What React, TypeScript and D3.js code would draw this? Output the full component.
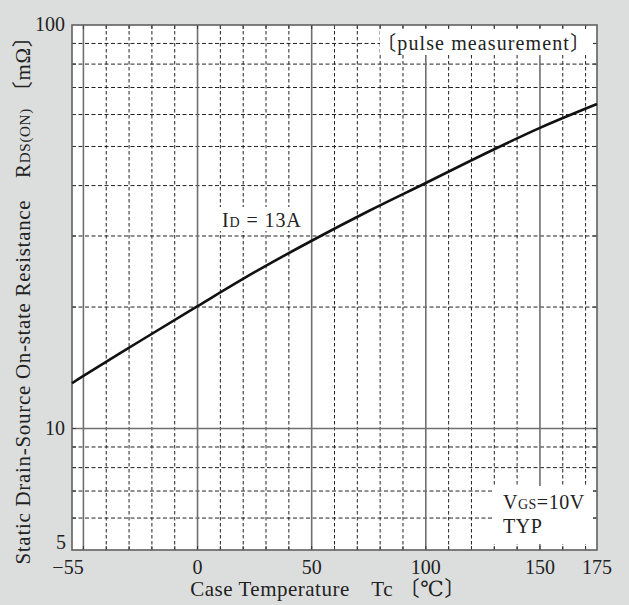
import React from "react";
import * as d3 from "d3";

const temps = [-55, -50, -25, 0, 25, 50, 75, 100, 125, 150, 175];
const rdsOn = [12.95, 13.5, 16.5, 20.1, 24.4, 29.2, 34.6, 40.6, 47.7, 55.6, 63.7];
const xTickLabels = [-55, 0, 50, 100, 150, 175];
const yTickLabels = [5, 10, 100];
const xSolidGrid = [-50, 0, 50, 100, 150];
const xDashedGrid = [-40, -30, -20, -10, 10, 20, 30, 40, 60, 70, 80, 90, 110, 120, 130, 140, 160, 170];
const ySolidGrid = [10];
const yDashedGrid = [6, 7, 8, 9, 20, 30, 40, 50, 60, 70, 80, 90];

const W = 629;
const H = 605;
const L = 72, R = 597, T = 25, B = 550;
const FONT = "'Liberation Serif', 'DejaVu Serif', 'Noto Sans CJK JP', serif";

export default function App() {
  const x = d3.scaleLinear().domain([-55, 175]).range([L, R]);
  const y = d3.scaleLog().domain([5, 100]).range([B, T]);
  const line = d3
    .line<number>()
    .x((_, i) => x(temps[i]))
    .y((d) => y(d))
    .curve(d3.curveCatmullRom.alpha(0.5));
  const allX = [...xSolidGrid, ...xDashedGrid];
  const allY = [...ySolidGrid, ...yDashedGrid];
  const tick = 4;
  return (
    <div style={{ position: "absolute", left: 0, top: 0 }}>
      <svg width={W} height={H} style={{ display: "block" }} fontFamily={FONT}>
        <rect x={0} y={0} width={W} height={H} fill="#dcdedd" />
        <rect x={L} y={T} width={R - L} height={B - T} fill="#ffffff" />
        {xDashedGrid.map((v) => (
          <line key={"xd" + v} x1={x(v)} x2={x(v)} y1={T} y2={B} stroke="#222" strokeWidth={1} strokeDasharray="3.5,2.5" />
        ))}
        {yDashedGrid.map((v) => (
          <line key={"yd" + v} x1={L} x2={R} y1={y(v)} y2={y(v)} stroke="#222" strokeWidth={1} strokeDasharray="4,2.5" />
        ))}
        {xSolidGrid.map((v) => (
          <line key={"xs" + v} x1={x(v)} x2={x(v)} y1={T} y2={B} stroke="#707070" strokeWidth={1.6} />
        ))}
        {ySolidGrid.map((v) => (
          <line key={"ys" + v} x1={L} x2={R} y1={y(v)} y2={y(v)} stroke="#707070" strokeWidth={1.6} />
        ))}
        {/* label boxes */}
        <rect x={380} y={28} width={213} height={27} fill="#ffffff" />
        <rect x={219} y={207} width={88} height={24} fill="#ffffff" />
        <rect x={493} y={486} width={100} height={58} fill="#ffffff" />
        {/* border ticks */}
        {allX.map((v) => (
          <g key={"tx" + v}>
            <line x1={x(v)} x2={x(v)} y1={T} y2={T + tick} stroke="#333" strokeWidth={1} />
            <line x1={x(v)} x2={x(v)} y1={B} y2={B - tick} stroke="#333" strokeWidth={1} />
          </g>
        ))}
        {allY.map((v) => (
          <g key={"ty" + v}>
            <line x1={L} x2={L + tick} y1={y(v)} y2={y(v)} stroke="#333" strokeWidth={1} />
            <line x1={R} x2={R - tick} y1={y(v)} y2={y(v)} stroke="#333" strokeWidth={1} />
          </g>
        ))}
        <rect x={L} y={T} width={R - L} height={B - T} fill="none" stroke="#606060" strokeWidth={1.6} />
        <path d={line(rdsOn) || ""} fill="none" stroke="#111" strokeWidth={2.6} />
        {/* tick labels */}
        {xTickLabels.map((v) => (
          <text key={"xl" + v} x={x(v) + (v === -55 ? -4 : 0)} y={574} textAnchor="middle" fontSize={20} fill="#222">
            {v < 0 ? "\u2212" + Math.abs(v) : v}
          </text>
        ))}
        {yTickLabels.map((v) => (
          <text key={"yl" + v} x={v === 5 ? 66 : 65} y={v === 5 ? y(v) - 1 : y(v) + 6} textAnchor="end" fontSize={20} fill="#222">
            {v}
          </text>
        ))}
        {/* annotations */}
        <text x={591} y={50} textAnchor="end" fontSize={20} letterSpacing={1.1} fill="#222">〔pulse measurement〕</text>
        <text x={222} y={227} fontSize={20} letterSpacing={0.9} fill="#222">
          I<tspan fontSize={14}>D</tspan> = 13A
        </text>
        <text x={503} y={509} fontSize={20} letterSpacing={0.5} fill="#222">
          V<tspan fontSize={14}>GS</tspan>=10V
        </text>
        <text x={503} y={533} fontSize={20} letterSpacing={0.5} fill="#222">TYP</text>
        {/* axis titles */}
        <text x={328} y={596} textAnchor="middle" fontSize={21} letterSpacing={0.5} fill="#222">
          Case Temperature{"\u2003"}Tc 〔℃〕
        </text>
        <text transform="translate(30,295) rotate(-90)" textAnchor="middle" fontSize={21} letterSpacing={0.7} fill="#222">
          Static Drain-Source On-state Resistance{"\u2003"}R<tspan fontSize={15}>DS(ON)</tspan> 〔mΩ〕
        </text>
      </svg>
    </div>
  );
}
